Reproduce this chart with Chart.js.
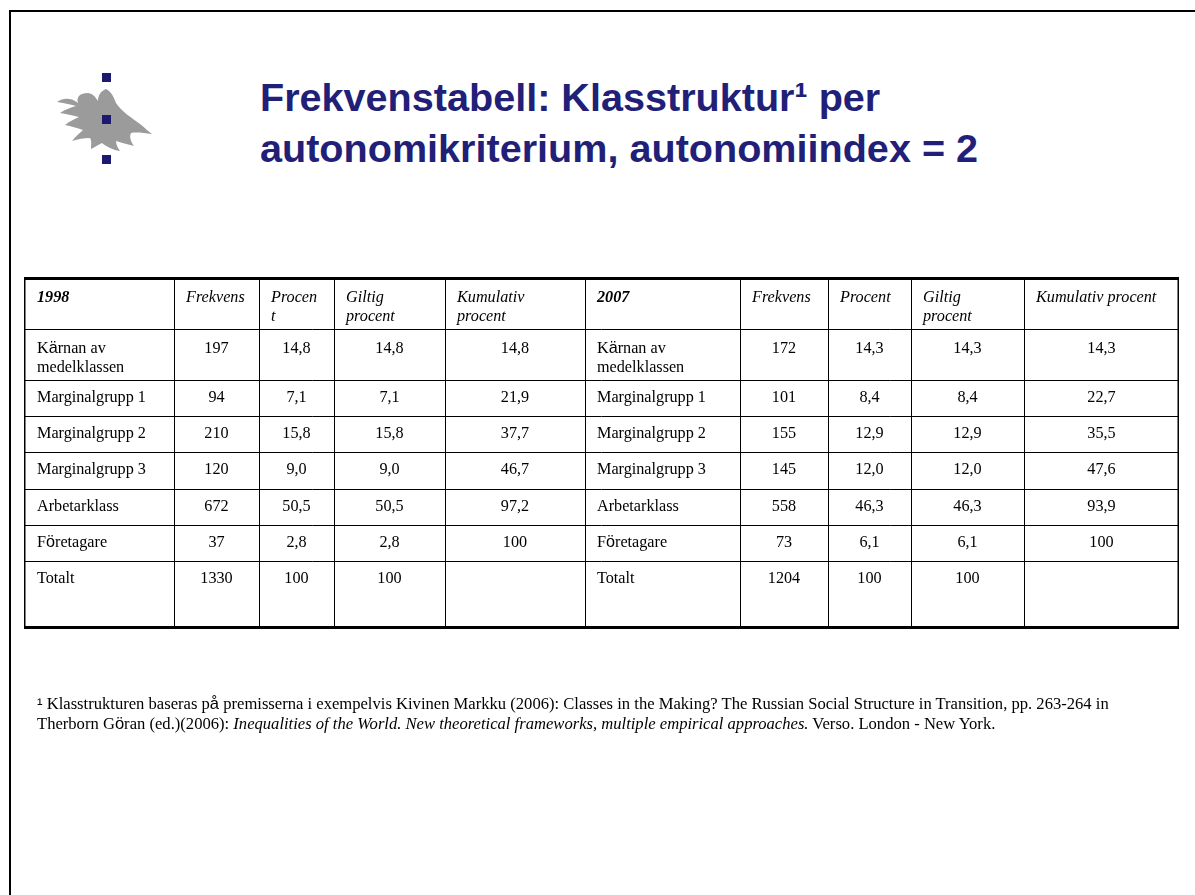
<!DOCTYPE html>
<html>
<head>
<meta charset="utf-8">
<script src="https://cdn.jsdelivr.net/npm/chart.js@4.4.1/dist/chart.umd.min.js"></script>
<style>
  html, body { margin:0; padding:0; background:#fff; }
  body { width:1195px; height:895px; position:relative; overflow:hidden; }
  #c { position:absolute; left:0; top:0; }
  .frameTop { position:absolute; left:9px; top:10px; width:1186px; height:2px; background:#000; }
  .frameLeft { position:absolute; left:9px; top:10px; width:2px; height:885px; background:#000; }
  #logo { position:absolute; left:0; top:0; }
  #title { position:absolute; left:260px; top:72px; margin:0; font-family:"Liberation Sans", Arial, sans-serif;
           font-weight:bold; font-size:39.6px; line-height:51px; color:#221f78; white-space:nowrap; }
  #foot { position:absolute; left:37px; top:694px; margin:0; font-family:"Liberation Serif","Times New Roman",serif;
          font-size:16.6px; line-height:20px; color:#000; white-space:nowrap; }
  .sans { font-family:"Liberation Sans", Arial, sans-serif; }
</style>
</head>
<body>
<div class="frameTop"></div>
<div class="frameLeft"></div>
<svg id="logo" width="200" height="200" viewBox="0 0 200 200">
  <path fill="#9b9b9b" d="M57,102 C64,97 72,98 78,103 C76,97 80,93 88,93 C94,94 96,98 98,101 C98,95 101,91 106,89 C112,92 114,98 116,103 C122,112 132,118 140,124 C145,128 148,131 152,134 C144,133 137,132 131,133 C129,137 131,142 134,146 C126,144 120,142 116,141 C116,145 118,148 120,151 C112,150 106,146 102,143 C98,145 95,147 91,149 C91,144 92,141 90,138 C84,138 78,139 72,141 C76,136 80,133 83,130 C77,128 71,126 65,125 C70,121 75,119 79,117 C72,115 66,114 60,113 C66,109 72,107 76,106 C70,104 63,103 57,102 Z"/>
  <rect x="102" y="73" width="9" height="9" fill="#1c1a6e"/>
  <rect x="102" y="115" width="9" height="9" fill="#1c1a6e"/>
  <rect x="102" y="155" width="9" height="9" fill="#1c1a6e"/>
</svg>
<h1 id="title">Frekvenstabell: Klasstruktur¹ per<br>autonomikriterium, autonomiindex = 2</h1>
<canvas id="c" width="1195" height="895"></canvas>
<p id="foot"><span class="sans">¹</span> Klasstrukturen baseras p<span class="sans">å</span> premisserna i exempelvis Kivinen Markku (2006): Classes in the Making? The Russian Social Structure in Transition, pp. 263-264 in<br>Therborn G<span class="sans">ö</span>ran (ed.)(2006): <i>Inequalities of the World. New theoretical frameworks, multiple empirical approaches.</i> Verso. London - New York.</p>
<script>
// ---------- DATA ----------
const years = ['1998', '2007'];
const headers1998 = [['Frekvens'], ['Procen', 't'], ['Giltig', 'procent'], ['Kumulativ', 'procent']];
const headers2007 = [['Frekvens'], ['Procent'], ['Giltig', 'procent'], ['Kumulativ procent']];
const categories = ['Kärnan av\nmedelklassen', 'Marginalgrupp 1', 'Marginalgrupp 2', 'Marginalgrupp 3', 'Arbetarklass', 'Företagare', 'Totalt'];
const freq1998 = [197, 94, 210, 120, 672, 37, 1330];
const pct1998 = [14.8, 7.1, 15.8, 9.0, 50.5, 2.8, 100];
const valid1998 = [14.8, 7.1, 15.8, 9.0, 50.5, 2.8, 100];
const cum1998 = [14.8, 21.9, 37.7, 46.7, 97.2, 100, null];
const freq2007 = [172, 101, 155, 145, 558, 73, 1204];
const pct2007 = [14.3, 8.4, 12.9, 12.0, 46.3, 6.1, 100];
const valid2007 = [14.3, 8.4, 12.9, 12.0, 46.3, 6.1, 100];
const cum2007 = [14.3, 22.7, 35.5, 47.6, 93.9, 100, null];

// ---------- LAYOUT (table grid in scale units) ----------
const layout = {
  colWidths: [150, 85, 75, 111, 140, 155, 88, 83, 113, 155],
  rowHeights: [51, 51, 36, 36, 36, 36, 36, 67],
  pad: { left: 24, right: 16, top: 278, bottom: 267 }
};

function fmtCount(v) { return v === null || v === undefined ? '' : String(v); }
function fmtPct(v) {
  if (v === null || v === undefined) return '';
  if (v === 100) return '100';
  return v.toFixed(1).replace('.', ',');
}

const SERIF = '"Liberation Serif","Times New Roman",serif';
const SANS = '"Liberation Sans",Arial,sans-serif';
const SPECIAL = /[äöåÄÖÅ]/;

function runs(text) {
  const out = [];
  for (const ch of text) {
    const s = SPECIAL.test(ch);
    if (out.length && out[out.length - 1].s === s) out[out.length - 1].t += ch;
    else out.push({ t: ch, s });
  }
  return out;
}
function richWidth(ctx, text, font, sfont) {
  let w = 0;
  for (const r of runs(text)) { ctx.font = r.s ? sfont : font; w += ctx.measureText(r.t).width; }
  return w;
}
function drawRich(ctx, text, x, y, font, sfont, align) {
  const w = richWidth(ctx, text, font, sfont);
  let cx = align === 'center' ? x - w / 2 : x;
  ctx.textAlign = 'left';
  ctx.textBaseline = 'alphabetic';
  for (const r of runs(text)) {
    ctx.font = r.s ? sfont : font;
    ctx.fillText(r.t, cx, y);
    cx += ctx.measureText(r.t).width;
  }
}

function cum(arr) { const o = [0]; arr.forEach(v => o.push(o[o.length - 1] + v)); return o; }
const colEdges = cum(layout.colWidths);
const rowEdges = cum(layout.rowHeights);

const tablePlugin = {
  id: 'tablePlugin',
  afterDraw(chart) {
    const ctx = chart.ctx;
    const xs = chart.scales.x, ys = chart.scales.y;
    const X = colEdges.map(v => xs.getPixelForValue(v));
    const Y = rowEdges.map(v => ys.getPixelForValue(v));
    ctx.save();
    ctx.fillStyle = '#000';
    ctx.strokeStyle = '#000';
    const fs = '16.2px ';
    const fontR = fs + SERIF, fontI = 'italic ' + fs + SERIF, fontBI = 'italic bold ' + fs + SERIF;
    const sR = fs + SANS;
    const lineH = 19, padL = 12;

    // header row
    const hdrCells = [[years[0]]].concat(headers1998, [[years[1]]], headers2007);
    hdrCells.forEach((lines, c) => {
      const isYear = c === 0 || c === 5;
      lines.forEach((ln, i) => {
        drawRich(ctx, ln, X[c] + (c === 0 ? 13 : padL), Y[0] + 24 + i * lineH, isYear ? fontBI : fontI, sR, 'left');
      });
    });
    // body rows
    categories.forEach((cat, r) => {
      const top = Y[r + 1];
      const off = r === 0 ? 24 : 22;
      const cells = [cat, fmtCount(freq1998[r]), fmtPct(pct1998[r]), fmtPct(valid1998[r]), fmtPct(cum1998[r]),
                     cat, fmtCount(freq2007[r]), fmtPct(pct2007[r]), fmtPct(valid2007[r]), fmtPct(cum2007[r])];
      cells.forEach((txt, c) => {
        const lines = String(txt).split('\n');
        const isLabel = c === 0 || c === 5;
        lines.forEach((ln, i) => {
          const y = top + off + i * lineH;
          if (isLabel) drawRich(ctx, ln, X[c] + (c === 0 ? 13 : padL), y, fontR, sR, 'left');
          else drawRich(ctx, ln, (X[c] + X[c + 1]) / 2, y, fontR, sR, 'center');
        });
      });
    });

    // grid lines
    ctx.lineWidth = 1;
    ctx.beginPath();
    for (let i = 1; i < Y.length - 1; i++) {
      const y = Math.round(Y[i]) + 0.5;
      ctx.moveTo(X[0], y); ctx.lineTo(X[X.length - 1], y);
    }
    for (let i = 1; i < X.length - 1; i++) {
      const x = Math.round(X[i]) + 0.5;
      ctx.moveTo(x, Y[0]); ctx.lineTo(x, Y[Y.length - 1]);
    }
    ctx.stroke();
    ctx.lineWidth = 1.5;
    ctx.beginPath();
    ctx.moveTo(Math.round(X[0]) + 0.75, Y[0]); ctx.lineTo(Math.round(X[0]) + 0.75, Y[Y.length - 1]);
    const xr = Math.round(X[X.length - 1]) - 0.75;
    ctx.moveTo(xr, Y[0]); ctx.lineTo(xr, Y[Y.length - 1]);
    ctx.stroke();
    ctx.lineWidth = 3;
    ctx.beginPath();
    ctx.moveTo(X[0], Math.round(Y[0]) + 0.5); ctx.lineTo(X[X.length - 1], Math.round(Y[0]) + 0.5);
    ctx.moveTo(X[0], Math.round(Y[Y.length - 1]) - 0.5); ctx.lineTo(X[X.length - 1], Math.round(Y[Y.length - 1]) - 0.5);
    ctx.stroke();
    ctx.restore();
  }
};

new Chart(document.getElementById('c'), {
  type: 'scatter',
  data: { datasets: [] },
  options: {
    responsive: false,
    devicePixelRatio: 1,
    animation: false,
    layout: { padding: layout.pad },
    plugins: { legend: { display: false }, tooltip: { enabled: false }, title: { display: false } },
    scales: {
      x: { type: 'linear', display: false, min: 0, max: colEdges[colEdges.length - 1] },
      y: { type: 'linear', display: false, reverse: true, min: 0, max: rowEdges[rowEdges.length - 1] }
    }
  },
  plugins: [tablePlugin]
});
</script>
</body>
</html>
